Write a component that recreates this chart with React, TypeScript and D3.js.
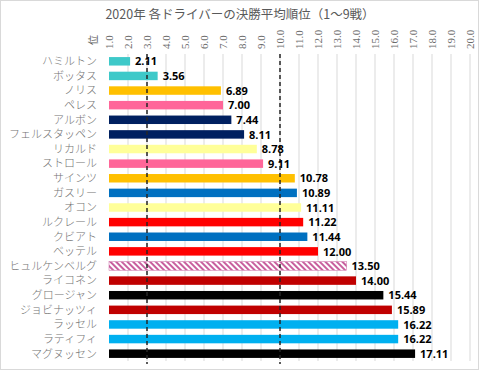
import React, { useEffect, useRef } from 'react';
import * as d3 from 'd3';

const drivers = [
  'ハミルトン', 'ボッタス', 'ノリス', 'ペレス', 'アルボン', 'フェルスタッペン', 'リカルド',
  'ストロール', 'サインツ', 'ガスリー', 'オコン', 'ルクレール', 'クビアト', 'ベッテル',
  'ヒュルケンベルグ', 'ライコネン', 'グロージャン', 'ジョビナッツィ', 'ラッセル', 'ラティフィ', 'マグヌッセン',
];
const avgRank = [
  2.11, 3.56, 6.89, 7.0, 7.44, 8.11, 8.78, 9.11, 10.78, 10.89, 11.11,
  11.22, 11.44, 12.0, 13.5, 14.0, 15.44, 15.89, 16.22, 16.22, 17.11,
];
const teamColors = [
  '#3ec9c9', '#3ec9c9', '#ffc000', '#ff6699', '#002060', '#002060', '#ffff99',
  '#ff6699', '#ffc000', '#0070c0', '#ffff99', '#ff0000', '#0070c0', '#ff0000',
  'url(#hatch)', '#c00000', '#000000', '#c00000', '#00b0f0', '#00b0f0', '#000000',
];
const xTicks = d3.range(1, 21);
const refLines = [3, 10];

const title = '2020年 各ドライバーの決勝平均順位（1～9戦）';
const jp = '"Noto Sans CJK JP", "Noto Sans", sans-serif';

export default function App() {
  const ref = useRef<SVGSVGElement | null>(null);

  useEffect(() => {
    const svg = d3.select(ref.current);
    svg.selectAll('*').remove();

    const W = 480, H = 371;
    const left = 109, right = 470, top = 54, bottom = 361;

    const x = d3.scaleLinear().domain([1, 20]).range([left, right]);
    const y = d3.scaleBand<string>().domain(drivers).range([top, bottom]).paddingInner(0.42).paddingOuter(0.21);

    // hatch pattern for Hulkenberg
    const defs = svg.append('defs');
    const pat = defs.append('pattern')
      .attr('id', 'hatch')
      .attr('patternUnits', 'userSpaceOnUse')
      .attr('width', 4)
      .attr('height', 4)
      .attr('patternTransform', 'rotate(-45)');
    pat.append('rect').attr('width', 4).attr('height', 4).attr('fill', '#fff');
    pat.append('rect').attr('width', 2).attr('height', 4).attr('fill', '#c8609e');

    svg.append('rect')
      .attr('x', 0.5).attr('y', 0.5)
      .attr('width', W - 2).attr('height', H - 2)
      .attr('fill', '#fff')
      .attr('stroke', '#d9d9d9');

    svg.append('text')
      .attr('x', 240).attr('y', 19)
      .attr('text-anchor', 'middle')
      .style('font-family', jp)
      .style('font-size', '12.5px')
      .style('fill', '#595959')
      .text(title);

    // gridlines
    svg.append('g').selectAll('line')
      .data(xTicks.slice(1))
      .enter().append('line')
      .attr('x1', d => x(d)).attr('x2', d => x(d))
      .attr('y1', top).attr('y2', bottom)
      .style('stroke', '#d9d9d9')
      .style('stroke-width', '1px');

    // tick labels (rotated)
    svg.append('g').selectAll('text')
      .data(xTicks)
      .enter().append('text')
      .attr('transform', d => `translate(${x(d) + 4},49) rotate(-90)`)
      .attr('text-anchor', 'start')
      .style('font-family', '"Liberation Serif", serif')
      .style('font-size', '11px')
      .style('fill', '#6b6b6b')
      .text(d => d.toFixed(1));

    svg.append('text')
      .attr('transform', `translate(${97},40) rotate(-90)`)
      .attr('text-anchor', 'middle')
      .style('font-family', jp)
      .style('font-size', '10px')
      .style('fill', '#595959')
      .text('位');

    // bars
    svg.append('g').selectAll('rect')
      .data(drivers)
      .enter().append('rect')
      .attr('x', x(1))
      .attr('y', d => y(d)!)
      .attr('width', (d, i) => x(avgRank[i]) - x(1))
      .attr('height', y.bandwidth())
      .attr('fill', (d, i) => teamColors[i])
      .attr('stroke', (d, i) => (i === 14 ? '#c8609e' : 'none'))
      .attr('stroke-width', 0.5);

    // category labels
    svg.append('g').selectAll('text')
      .data(drivers)
      .enter().append('text')
      .attr('x', 97)
      .attr('y', d => y(d)! + y.bandwidth() / 2)
      .attr('dy', '0.35em')
      .attr('text-anchor', 'end')
      .style('font-family', jp)
      .style('font-size', '11px')
      .style('font-weight', 300)
      .style('fill', '#737373')
      .text(d => d);

    // reference dashed lines
    svg.append('g').selectAll('line')
      .data(refLines)
      .enter().append('line')
      .attr('x1', d => x(d)).attr('x2', d => x(d))
      .attr('y1', top).attr('y2', bottom + 3)
      .style('stroke', '#262626')
      .style('stroke-width', '1.5px')
      .style('stroke-dasharray', '4,3');

    // value labels
    svg.append('g').selectAll('text')
      .data(drivers)
      .enter().append('text')
      .attr('x', (d, i) => x(avgRank[i]) + 5)
      .attr('y', d => y(d)! + y.bandwidth() / 2)
      .attr('dy', '0.38em')
      .style('font-family', '"Open Sans", sans-serif')
      .style('font-weight', 'bold')
      .style('font-size', '11px')
      .style('fill', '#000')
      .text((d, i) => avgRank[i].toFixed(2));
  }, []);

  return (
    <svg ref={ref} width={480} height={371} style={{ position: 'absolute', left: 0, top: 0 }} />
  );
}
